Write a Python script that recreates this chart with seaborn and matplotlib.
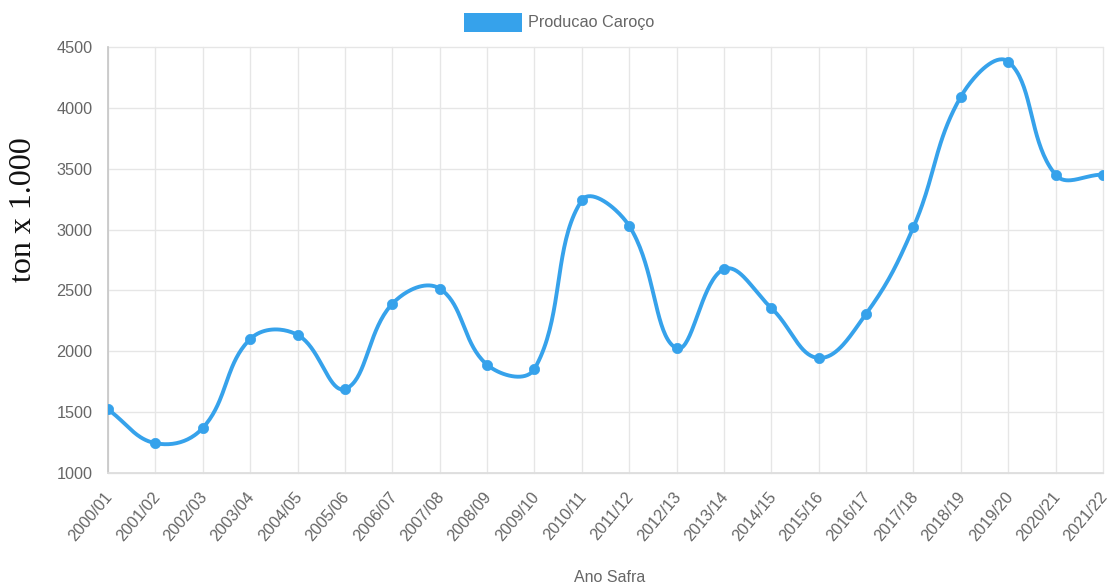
import numpy as np
import pandas as pd
import matplotlib
matplotlib.use("Agg")
import matplotlib.pyplot as plt
import seaborn as sns
from matplotlib.patches import Rectangle
from matplotlib.transforms import ScaledTranslation

# ---- data ----
seasons = ["2000/01", "2001/02", "2002/03", "2003/04", "2004/05", "2005/06",
           "2006/07", "2007/08", "2008/09", "2009/10", "2010/11", "2011/12",
           "2012/13", "2013/14", "2014/15", "2015/16", "2016/17", "2017/18",
           "2018/19", "2019/20", "2020/21", "2021/22"]
producao = [1522, 1245, 1370, 2100, 2135, 1690, 2390, 2515, 1890, 1855,
            3240, 3030, 2025, 2675, 2355, 1945, 2308, 3020, 4092, 4380,
            3450, 3452]
y_ticks = [1000, 1500, 2000, 2500, 3000, 3500, 4000, 4500]
legend_label = "Producao Caroço"
x_title = "Ano Safra"
y_title = "ton x 1.000"

BLUE = "#36A2EB"
GRID = "#e6e6e6"
TXT = "#666666"

W, H = 1113, 586
L, R, T, B = 108, 1103, 47, 473


def chartjs_curve(ys, tension=0.4, n=40):
    """Bezier spline like Chart.js (tension 0.4), computed in pixel space."""
    sx = (R - L) / (len(ys) - 1)
    sy = (B - T) / (y_ticks[-1] - y_ticks[0])
    px = np.arange(len(ys)) * sx
    py = np.asarray(ys, float) * sy
    N = len(px)
    cprev = np.zeros((N, 2))
    cnext = np.zeros((N, 2))
    for i in range(N):
        a = i - 1 if i > 0 else i
        c = i + 1 if i < N - 1 else i
        d01 = np.hypot(px[i] - px[a], py[i] - py[a])
        d12 = np.hypot(px[c] - px[i], py[c] - py[i])
        tot = d01 + d12
        s01 = d01 / tot if tot else 0
        s12 = d12 / tot if tot else 0
        fa, fb = tension * s01, tension * s12
        dx, dy = px[c] - px[a], py[c] - py[a]
        cprev[i] = (px[i] - fa * dx, py[i] - fa * dy)
        cnext[i] = (px[i] + fb * dx, py[i] + fb * dy)
    t = np.linspace(0, 1, n)[:, None]
    out = []
    for i in range(N - 1):
        P0 = np.array([px[i], py[i]])
        P3 = np.array([px[i + 1], py[i + 1]])
        P1, P2 = cnext[i], cprev[i + 1]
        seg = ((1 - t) ** 3) * P0 + 3 * ((1 - t) ** 2) * t * P1 + 3 * (1 - t) * t ** 2 * P2 + t ** 3 * P3
        out.append(seg if i == 0 else seg[1:])
    out = np.vstack(out)
    return out[:, 0] / sx, out[:, 1] / sy


sns.set_theme(style="white")
plt.rcParams["font.family"] = ["Liberation Sans", "DejaVu Sans"]

fig = plt.figure(figsize=(W / 100, H / 100), dpi=100)
ax = fig.add_axes([L / W, 1 - B / H, (R - L) / W, (B - T) / H])

cx, cy = chartjs_curve(producao)
curve = pd.DataFrame({"x": cx, "y": cy})
pts = pd.DataFrame({"x": np.arange(len(seasons)), "y": producao})

sns.lineplot(data=curve, x="x", y="y", ax=ax, color=BLUE, linewidth=2.8,
             sort=False, estimator=None, zorder=3)
sns.scatterplot(data=pts, x="x", y="y", ax=ax, color=BLUE, s=55,
                edgecolor=BLUE, linewidth=0.5, zorder=4)

ax.set_xlim(0, len(seasons) - 1)
ax.set_ylim(y_ticks[0], y_ticks[-1])
ax.set_xticks(range(len(seasons)))
ax.set_xticklabels(seasons, rotation=50, ha="right", rotation_mode="anchor")
ax.set_yticks(y_ticks)
ax.set_yticklabels([str(v) for v in y_ticks])
ax.grid(True, color=GRID, linewidth=1)
ax.set_axisbelow(True)
for g in ax.get_xgridlines() + ax.get_ygridlines():
    g.set_clip_on(False)
ax.tick_params(axis="both", length=10, width=1, color=GRID, labelcolor=TXT,
               labelsize=11.7)
ax.tick_params(axis="y", pad=1)
ax.tick_params(axis="x", pad=3)
shift = ScaledTranslation(-4 / 100, 2 / 100, fig.dpi_scale_trans)
for lab in ax.get_xticklabels():
    lab.set_transform(lab.get_transform() + shift)
for s in ["top", "right"]:
    ax.spines[s].set_visible(False)
ax.spines["left"].set_color("#c8c8c8")
ax.spines["bottom"].set_color("#dddddd")
ax.set_xlabel("")
ax.set_ylabel("")

fig.text(24 / W, 1 - 210 / H, y_title, rotation=90, ha="center", va="center",
         fontsize=23, color="#111111", family=["Liberation Serif", "DejaVu Serif"])
fig.text(610 / W, 1 - 578 / H, x_title, ha="center", va="center",
         fontsize=11.5, color=TXT)

fig.patches.append(Rectangle((464 / W, 1 - 32 / H), 58 / W, 19 / H,
                             transform=fig.transFigure, facecolor=BLUE,
                             edgecolor="none"))
fig.text(528 / W, 1 - 22 / H, legend_label, ha="left", va="center",
         fontsize=11.7, color=TXT)

fig.savefig("out.png", dpi=100)
